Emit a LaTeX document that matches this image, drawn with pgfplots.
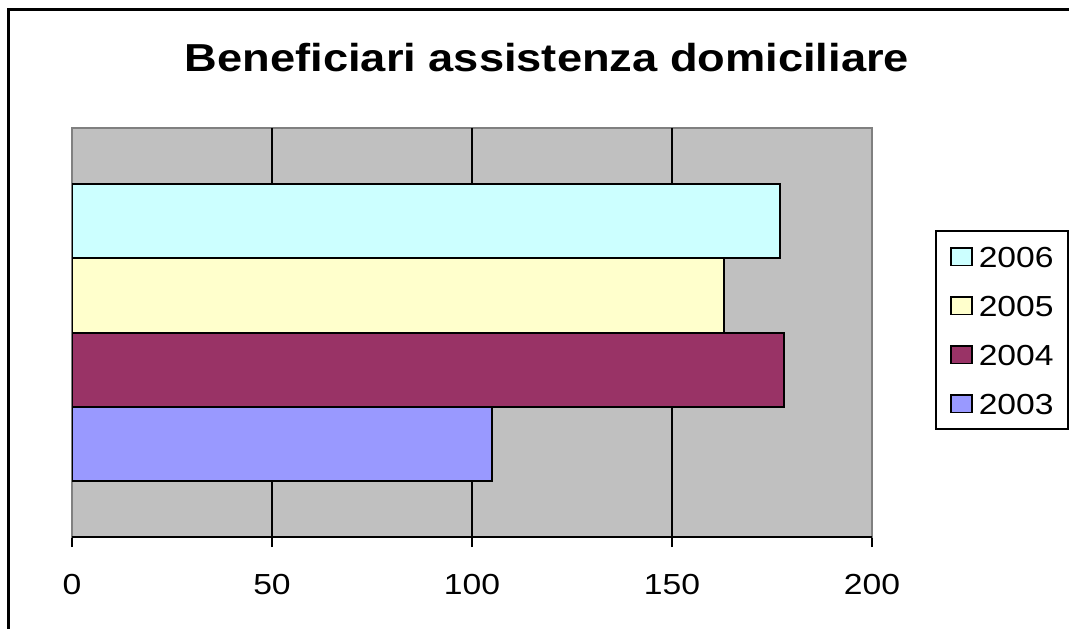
\documentclass[border=0pt]{standalone}
\usepackage{fontspec}
\setmainfont{Liberation Sans}[FakeStretch=1.16]
\usepackage{pgfplots}
\pgfplotsset{compat=1.18}
\definecolor{cA}{HTML}{9999FF}
\definecolor{cB}{HTML}{993366}
\definecolor{cC}{HTML}{FFFFCC}
\definecolor{cD}{HTML}{CCFFFF}
\definecolor{plotgray}{HTML}{C0C0C0}
\definecolor{framegray}{HTML}{808080}
\begin{document}
\begin{tikzpicture}[x=1pt,y=1pt]
\useasboundingbox (0,0) rectangle (534.5,314);
\draw[line width=1.5pt] (4,-5) -- (4,309) -- (545,309);
\node[anchor=base,inner sep=0pt,font=\fontsize{19.5}{21}\selectfont\bfseries] at (273.5,278) {Beneficiari assistenza domiciliare};
\begin{axis}[
  at={(36pt,45.5pt)}, anchor=south west,
  scale only axis, width=400pt, height=204.5pt,
  xmin=0, xmax=200, ymin=0, ymax=5.5,
  xbar, bar width=1, bar shift=0pt,
  axis background/.style={fill=plotgray},
  axis line style={draw=framegray, line width=1pt},
  xtick={0,50,100,150,200}, ytick=\empty,
  extra x ticks={50,100,150}, extra x tick labels={},
  extra x tick style={xmajorgrids=true, major tick length=0pt},
  major grid style={black, line width=1pt},
  tick style={black, line width=1pt}, major tick length=5pt,
  tick align=outside, xtick pos=bottom,
  ticklabel style={font=\fontsize{14.5}{16}\selectfont},
  xticklabel style={yshift=-10pt},
  /pgf/number format/assume math mode=true,
  reverse legend,
  legend style={at={(1.07875,0.7506)}, anchor=north west, draw=black, line width=1pt,
    font=\fontsize{14.5}{16}\selectfont, inner xsep=7pt, inner ysep=7.5pt,
    nodes={inner sep=0pt, text height=10.5pt, text depth=0pt}, row sep=14pt},
  legend cell align=left,
  legend image code/.code={\draw[#1, line width=0.75pt] (0pt,-4.6pt) rectangle (10.5pt,4.2pt); \path[draw=none,fill=none] (0pt,0pt) -- (14pt,0pt);},
]
\addplot[draw=black, line width=1pt, fill=cA] coordinates {(105,1.25)};
\addplot[draw=black, line width=1pt, fill=cB] coordinates {(178,2.25)};
\addplot[draw=black, line width=1pt, fill=cC] coordinates {(163,3.25)};
\addplot[draw=black, line width=1pt, fill=cD] coordinates {(177,4.25)};
\legend{2003,2004,2005,2006}
\draw[black, line width=1pt] (rel axis cs:0,0) -- (rel axis cs:1,0);
\end{axis}
\end{tikzpicture}
\end{document}
